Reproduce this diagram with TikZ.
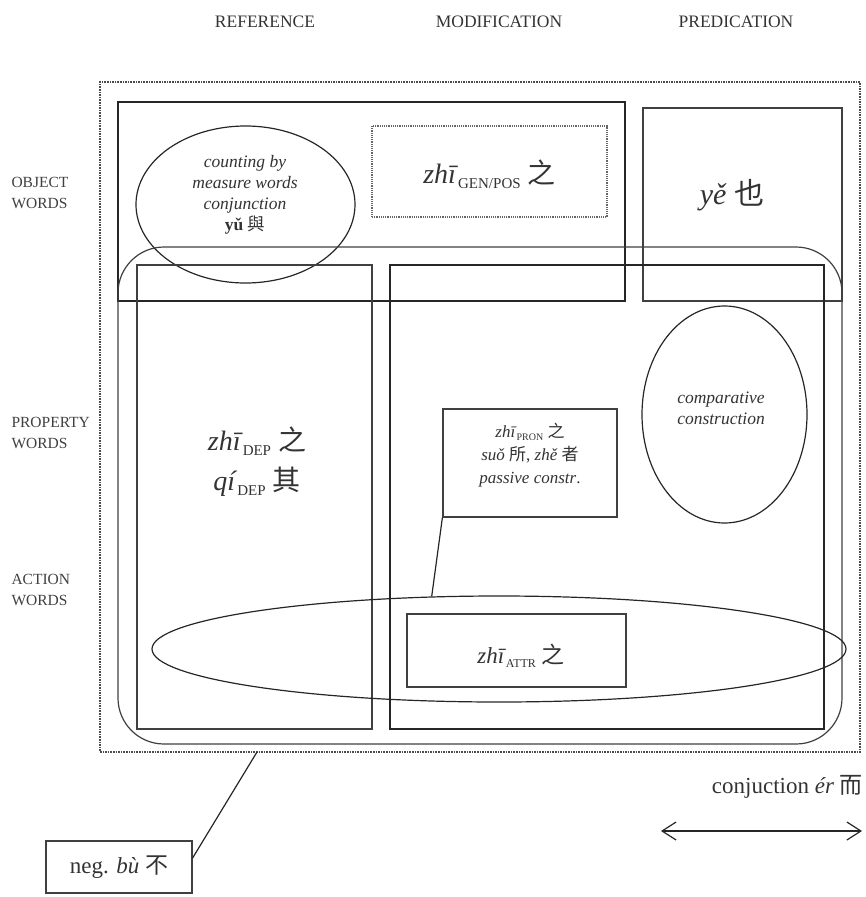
\documentclass[tikz,border=0pt]{standalone}
\usepackage{fontspec}
\setmainfont{Liberation Serif}
\newfontfamily\cjk{Noto Sans CJK SC}
\usetikzlibrary{shapes.geometric,arrows.meta,positioning}
\newcommand{\gsub}[2]{\raisebox{-.35ex}{\fontsize{#1}{#1}\selectfont #2}}
\newcommand{\fsz}[2]{\fontsize{#1}{#2}\selectfont}

\begin{document}
\begin{tikzpicture}[x=1pt, y=-1pt,
  heavy/.style={rectangle, draw=black!85, line width=2.6pt, inner sep=0pt},
  plain/.style={rectangle, draw=black!75, line width=1.2pt, inner sep=0pt, align=center},
  outer/.style={rectangle, draw=black!70, densely dotted, line width=1.6pt, inner sep=0pt},
  oval/.style={ellipse, draw=black!85, line width=1.2pt, inner sep=0pt, align=center},
  txt/.style={align=center, text=black!80, inner sep=1pt},
  head/.style={font=\fsz{17.5}{17.5}, text=black!80},
  side/.style={font=\fsz{15.5}{21}, align=left, text=black!75, anchor=west},
  link/.style={draw=black!85, line width=1.2pt}
]
\useasboundingbox (0,0) rectangle (865,897);

% Column headers
\node[head] (ref)  at (265,22) {REFERENCE};
\node[head] (mod)  at (499,22) {MODIFICATION};
\node[head] (pred) at (736,22) {PREDICATION};

% Row labels
\node[side] (objw)  at (8,193) {OBJECT\\WORDS};
\node[side] (propw) at (8,433) {PROPERTY\\WORDS};
\node[side] (actw)  at (8,590) {ACTION\\WORDS};

% Frame and object row
\node[outer] (frame) at (480,417) [minimum width=760, minimum height=670] {};
\node[heavy] (objrow) at (371.5,201.5) [minimum width=507, minimum height=199] {};
\node[plain, draw=black!60, densely dotted] (gen) at (489.5,171.5) [minimum width=235, minimum height=91] {};
\node[txt, font=\fsz{28}{28}] (gentxt) at (489.5,174) {\textit{zhī}\gsub{15}{GEN/POS} {\cjk 之}};
\node[oval] (count) at (245.5,204.5) [minimum width=219, minimum height=157] {};
\node[txt, font=\fsz{17.5}{21}\itshape] (counttxt) at (245,195)
  {counting by\\measure words\\conjunction\\\textup{\textbf{yǔ} {\cjk 與}}};
\node[plain] (ye) at (742.5,204.5) [minimum width=199, minimum height=193] {};
\node[txt, font=\fsz{30}{30}] (yetxt) at (732,195) {\textit{yě} {\cjk 也}};

% Property and action rows
\node[plain, rounded corners=46pt] (prop) at (480,495.5) [minimum width=724, minimum height=497] {};
\node[plain] (dep) at (254.5,497) [minimum width=235, minimum height=464] {};
\node[txt, font=\fsz{28}{40}] (deptxt) at (257,462)
  {\textit{zhī}\gsub{15}{DEP} {\cjk 之}\\\textit{qí}\gsub{15}{DEP} {\cjk 其}};
\node[heavy] (modrow) at (607,497) [minimum width=434, minimum height=464] {};
\node[oval] (comp) at (724.5,414.5) [minimum width=165, minimum height=217] {};
\node[txt, font=\fsz{17.5}{21}\itshape] (comptxt) at (721,408) {comparative\\construction};
\node[plain] (pron) at (530,463) [minimum width=174, minimum height=108] {};
\node[txt, font=\fsz{17}{23}] (prontxt) at (530,455)
  {\textit{zhī}\gsub{10}{PRON} {\cjk 之}\\\textit{suǒ} {\cjk 所}, \textit{zhě} {\cjk 者}\\\textit{passive constr}.};

\node[oval] (act) at (499,649) [minimum width=694, minimum height=106] {};
\node[plain] (attr) at (516.5,650.5) [minimum width=219, minimum height=73] {};
\node[txt, font=\fsz{23}{23}] (attrtxt) at (521,656) {\textit{zhī}\gsub{12}{ATTR} {\cjk 之}};

\draw[link] (pron.south west) -- (act.142);

% Conjunction and negation
\node[txt, font=\fsz{23}{23}, anchor=east] (conj) at (864,787) {conjuction \textit{ér} {\cjk 而}};
\coordinate (conjL) at (661,831);
\coordinate (conjR) at (862,831);
\draw[link, {Straight Barb[length=14pt,width=18pt]}-{Straight Barb[length=14pt,width=18pt]}] (conjL) -- (conjR);

\node[plain, font=\fsz{23}{23}, text=black!80] (neg) at (119,867) [minimum width=146, minimum height=52] {neg. \textit{bù} {\cjk 不}};
\coordinate (negend) at (257,752);
\draw[link] ([yshift=9pt]neg.east) -- (negend);

\end{tikzpicture}
\end{document}
